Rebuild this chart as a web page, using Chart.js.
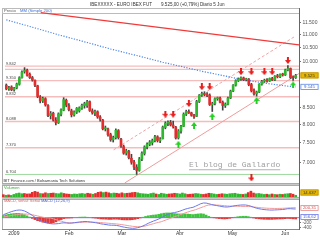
<!DOCTYPE html>
<html lang="es">
<head>
<meta charset="UTF-8">
<meta name="viewport" content="width=device-width, initial-scale=1.0">
<title>IBEX Futuro - Diario</title>
<script src="https://cdn.jsdelivr.net/npm/chart.js"></script>
<style>
    body { margin: 0; width: 320px; height: 240px; overflow: hidden; background: #fff; position: relative; }
    canvas { position: absolute; left: 0; }
    .marco { position: absolute; box-sizing: border-box; border: 1px solid #aaa; background: #fff; }
    .sep { position: absolute; left: 2px; width: 298px; height: 1px; background: #c8c8c8; }
    #eje { position: absolute; left: 299px; top: 8px; width: 1px; height: 222px; background: #666; }
</style>
</head>

<body>

    <div class="marco" style="left:2px;top:8px;width:298px;height:176px"></div>
    <div class="marco" style="left:2px;top:8px;width:298px;height:6px;border-color:#bbb"></div>
    <div class="sep" style="top:184px"></div>
    <div class="marco" style="left:2px;top:185px;width:298px;height:13px"></div>
    <div class="sep" style="top:198px"></div>
    <div class="marco" style="left:2px;top:199px;width:298px;height:31px"></div>
    <div id="eje"></div>

    <canvas id="cPrecio" width="320" height="188" style="top:0"></canvas>
    <canvas id="cVolumen" width="320" height="13" style="top:185px"></canvas>
    <canvas id="cMacd" width="320" height="46" style="top:194px"></canvas>

</body>

</html>

<script>

    // velas diarias (dic 2008 - 5 jun 2009)
    const apertura = [
        9200, 9080, 9140, 9050, 9110, 9230, 9450, 9660, 9700, 9560,
        9450, 9360, 9180, 8830, 8700, 8770, 8560, 8260, 8330, 8120,
        8050, 8300, 8420, 8720, 8560, 8400, 8280, 8360, 8400, 8480,
        8560, 8560, 8680, 8400, 8330, 8370, 8220, 8130, 7880, 7880,
        7720, 7580, 7640, 7830, 7600, 7400, 7230, 7280, 7100, 7000,
        6880, 6800, 7080, 7220, 7390, 7460, 7500, 7560, 7660, 7560,
        7610, 7920, 8040, 8060, 7990, 7930, 7630, 7820, 7950, 8300,
        8380, 8340, 8270, 8240, 8680, 8880, 8930, 8900, 8880, 8580,
        8620, 8770, 8790, 8660, 8560, 8600, 8790, 9010, 9200, 9350,
        9410, 9440, 9380, 9400, 9220, 9020, 8920, 8980, 9230, 9330,
        9360, 9340, 9420, 9370, 9500, 9480, 9560, 9540, 9710, 9760, 9460, 9450
    ];
    const maximo = [
        9240, 9160, 9180, 9130, 9270, 9480, 9680, 9792, 9740, 9610,
        9490, 9380, 9200, 8870, 8820, 8800, 8590, 8380, 8360, 8200,
        8340, 8460, 8800, 8760, 8620, 8450, 8400, 8500, 8520, 8600,
        8660, 8720, 8700, 8460, 8420, 8400, 8260, 8150, 7960, 7900,
        7760, 7680, 7880, 7860, 7620, 7440, 7330, 7300, 7200, 7050,
        6940, 7120, 7260, 7420, 7500, 7560, 7600, 7700, 7690, 7640,
        7960, 8080, 8110, 8120, 8100, 7950, 7860, 7980, 8340, 8420,
        8430, 8360, 8300, 8720, 8900, 8980, 8990, 8960, 8920, 8660,
        8800, 8820, 8820, 8700, 8640, 8820, 9040, 9220, 9380, 9440,
        9480, 9470, 9430, 9420, 9260, 9080, 9010, 9250, 9360, 9400,
        9420, 9440, 9460, 9520, 9560, 9580, 9600, 9740, 9860, 9780, 9510, 9560
    ];
    const minimo = [
        9050, 9030, 9020, 9010, 9080, 9200, 9430, 9600, 9500, 9420,
        9330, 9150, 8800, 8640, 8650, 8540, 8230, 8160, 8100, 7990,
        8030, 8250, 8400, 8520, 8400, 8220, 8240, 8320, 8360, 8440,
        8480, 8500, 8380, 8300, 8260, 8180, 8100, 7850, 7820, 7680,
        7540, 7520, 7600, 7600, 7380, 7200, 7180, 7080, 6950, 6820,
        6704, 6780, 7040, 7180, 7340, 7420, 7440, 7520, 7520, 7500,
        7600, 7880, 7970, 7960, 7900, 7600, 7600, 7760, 7940, 8260,
        8320, 8240, 8180, 8230, 8650, 8840, 8860, 8830, 8560, 8380,
        8580, 8720, 8640, 8420, 8500, 8580, 8770, 8990, 9170, 9320,
        9360, 9350, 9340, 9180, 8980, 8880, 8850, 8960, 9200, 9290,
        9300, 9320, 9350, 9350, 9440, 9450, 9500, 9520, 9680, 9420, 9360, 9420
    ];
    const cierre = [
        9080, 9110, 9050, 9110, 9240, 9450, 9640, 9690, 9530, 9450,
        9370, 9200, 8840, 8700, 8780, 8580, 8260, 8320, 8130, 8060,
        8310, 8430, 8740, 8570, 8430, 8280, 8370, 8470, 8490, 8570,
        8620, 8680, 8410, 8340, 8380, 8220, 8150, 7880, 7900, 7720,
        7580, 7640, 7840, 7640, 7420, 7230, 7290, 7110, 7000, 6880,
        6800, 7080, 7230, 7390, 7460, 7520, 7560, 7660, 7560, 7600,
        7930, 8040, 8060, 7990, 7940, 7630, 7820, 7950, 8300, 8380,
        8340, 8270, 8230, 8680, 8880, 8930, 8900, 8870, 8590, 8620,
        8770, 8790, 8660, 8560, 8600, 8790, 9010, 9200, 9350, 9410,
        9440, 9380, 9400, 9220, 9020, 8920, 8980, 9230, 9330, 9360,
        9340, 9420, 9370, 9500, 9480, 9560, 9540, 9710, 9760, 9450, 9450, 9525
    ];
    const volumen = [
        20000, 15000, 18000, 14000, 22000, 30000, 34000, 28000, 30000, 26000, 27000,
        40000, 48000, 42000, 30000, 28000, 36000, 30000, 32000, 34000, 30000,
        28000, 36000, 30000, 26000, 24000, 22000, 26000, 24000, 28000, 30000,
        26000, 32000, 28000, 24000, 30000, 40000, 44000, 38000, 42000, 36000,
        30000, 34000, 32000, 28000, 36000, 30000, 32000, 34000, 38000, 40000,
        36000, 30000, 28000, 26000, 24000, 30000, 34000, 26000, 22000, 32000,
        28000, 24000, 26000, 28000, 32000, 30000, 26000, 34000, 28000, 22000,
        24000, 26000, 30000, 28000, 24000, 22000, 26000, 32000, 30000, 26000,
        22000, 24000, 28000, 26000, 24000, 28000, 30000, 32000, 26000, 24000,
        22000, 26000, 38000, 50000, 34000, 28000, 30000, 26000, 22000, 24000,
        20000, 26000, 22000, 20000, 24000, 22000, 26000, 28000, 30000, 24000, 14637
    ];
    const mm200 = [
        11600, 11570, 11540, 11510, 11480, 11450, 11420, 11390, 11360, 11330,
        11300, 11270, 11240, 11210, 11180, 11150, 11120, 11090, 11060, 11030, 11000,
        10973, 10946, 10919, 10892, 10865, 10838, 10811, 10784, 10757, 10730,
        10703, 10676, 10649, 10622, 10595, 10568, 10541, 10514, 10487, 10460,
        10436, 10412, 10388, 10364, 10340, 10316, 10292, 10268, 10244, 10220,
        10196, 10172, 10148, 10124, 10100, 10076, 10052, 10028, 10004, 9980,
        9959, 9938, 9917, 9896, 9875, 9854, 9833, 9812, 9791, 9770,
        9749, 9728, 9707, 9686, 9665,
        9647, 9629, 9611, 9593, 9575, 9557, 9539, 9521, 9503, 9485,
        9467, 9449, 9431, 9413, 9395,
        9381, 9367, 9353, 9339, 9325, 9311, 9297, 9283, 9269, 9255,
        9244, 9233, 9222, 9211, 9200, 9189, 9178, 9167, 9158, 9150, 9145
    ];
    const macd = [
        120, 160, 200, 240, 270, 295, 308, 300, 270, 220,
        160, 90, 20, -50, -100, -160, -200, -220, -240, -250,
        -245, -235, -215, -205, -212, -220, -215, -200, -185, -170,
        -160, -150, -158, -172, -185, -200, -220, -245, -260, -275,
        -292, -300, -300, -310, -330, -360, -380, -400, -415, -424,
        -420, -400, -370, -330, -280, -224, -180, -135, -95, -52,
        0, 60, 110, 150, 185, 205, 230, 260, 300, 340,
        370, 395, 415, 460, 510, 560, 588, 585, 560, 530,
        505, 485, 465, 445, 430, 428, 440, 460, 480, 495,
        505, 510, 508, 490, 460, 420, 385, 360, 340, 325,
        315, 308, 305, 310, 315, 320, 328, 340, 360, 360, 352, 348
    ];
    const senal = [
        30, 45, 65, 85, 105, 120, 135, 145, 148, 145,
        135, 118, 95, 70, 45, 20, 0, -8, -12, -45,
        -80, -110, -140, -170, -195, -205, -205, -203, -198, -192,
        -185, -178, -175, -175, -178, -182, -188, -196, -205, -214,
        -223, -232, -240, -250, -262, -277, -293, -310, -327, -343,
        -355, -360, -360, -350, -330, -300, -270, -240, -210, -185,
        -160, -120, -80, -40, 0, 40, 75, 110, 150, 190,
        225, 260, 290, 320, 360, 400, 440, 480, 508, 512,
        510, 505, 500, 490, 480, 470, 465, 462, 460, 458,
        455, 452, 450, 447, 440, 430, 418, 405, 395, 388,
        380, 376, 372, 370, 370, 372, 375, 380, 388, 395, 398, 400
    ];
    const histograma = [
        90, 115, 135, 155, 165, 175, 173, 155, 122, 75,
        25, -28, -75, -120, -145, -180, -200, -212, -228, -205,
        -165, -125, -75, -35, -17, -15, -10, 3, 13, 22,
        25, 28, 17, 3, -7, -18, -32, -49, -55, -61,
        -69, -68, -60, -60, -68, -83, -87, -90, -88, -81,
        -65, -40, -10, 20, 50, 76, 90, 105, 115, 133,
        160, 180, 190, 190, 185, 165, 155, 150, 150, 150,
        145, 135, 125, 140, 150, 160, 148, 105, 52, 18,
        -5, -20, -35, -45, -50, -42, -25, -2, 20, 37,
        50, 58, 58, 43, 20, -10, -33, -45, -55, -63,
        -65, -68, -67, -60, -55, -52, -47, -40, -28, -35, -46, -52
    ];

    // ejes
    const mesIdx = [4, 25, 45, 67, 87, 107];
    const mesTxt = ['2009', 'Feb', 'Mar', 'Abr', 'May', 'Jun'];
    const ticksPrecio = [7000, 7500, 8000, 8500, 10000, 10500, 11000, 11500];
    const ticksMacd = [-400, -200];
    const macdCajas = [200.31, 156.62];

    // niveles y lineas de tendencia
    const niveles = [9842, 9350, 8832, 8088, 7370];
    const banda = [9730];
    const soporte = [6704];
    const rojaX = [13.2, 112.26], rojaY = [11900, 10610];
    const alcistaX = [45.4, 112.26], alcistaY = [6503, 9588];
    const canalX = [41.15, 110.36], canalY = [7313, 10917];

    // senales
    const ventaIdx = [61, 64, 70, 75, 78, 90, 94, 99, 102, 108];
    const ventaVal = [8300, 8300, 8620, 9150, 9150, 9650, 9650, 9650, 9650, 10040];
    const compraIdx = [66, 72, 79, 96, 110];
    const compraVal = [7460, 7975, 8230, 8715, 9208];
    const ventaBajaIdx = [94], ventaBajaVal = [6620];

    const X_MIN = -0.5, X_MAX = 112.26;
    const VERDE = '#2fb82f', ROJO = '#e52b2b';
    const FUENTE = "'Liberation Sans', Arial, sans-serif";

    Chart.defaults.font.family = FUENTE;
    Chart.defaults.plugins.legend.display = false;
    Chart.defaults.plugins.tooltip.enabled = false;

    const n = cierre.length;
    const idx = cierre.map((c, i) => i);
    const colorVela = cierre.map((c, i) => c >= apertura[i] ? VERDE : ROJO);

    function fmt(v) {
        return String(Math.round(v)).replace(/\B(?=(\d{3})+(?!\d))/g, '.');
    }

    function flecha(color, abajo) {
        let c = document.createElement('canvas');
        c.width = 6;
        c.height = 7;
        let g = c.getContext('2d');
        g.fillStyle = color;
        g.beginPath();
        if (abajo) {
            g.fillRect(2, 0, 2, 3);
            g.moveTo(0, 3); g.lineTo(6, 3); g.lineTo(3, 7);
        } else {
            g.fillRect(2, 4, 2, 3);
            g.moveTo(3, 0); g.lineTo(6, 4); g.lineTo(0, 4);
        }
        g.closePath();
        g.fill();
        return c;
    }
    const flechaRoja = flecha('#e81e1e', true);
    const flechaVerde = flecha('#22d022', false);

    function puntos(xs, ys) {
        return xs.map((x, k) => ({ x: x, y: ys[k] }));
    }

    function lineaH(v, color, ancho) {
        return {
            type: 'line', data: puntos([X_MIN, X_MAX], [v, v]),
            borderColor: color, borderWidth: ancho, pointRadius: 0, order: 9
        };
    }

    function caja(ctx, x, y, texto, fondo, borde, color) {
        ctx.fillStyle = fondo;
        ctx.fillRect(x, y - 3, 18, 6);
        ctx.strokeStyle = borde;
        ctx.lineWidth = 0.8;
        ctx.strokeRect(x + 0.4, y - 2.6, 17.2, 5.2);
        ctx.fillStyle = color;
        ctx.font = '4.3px ' + FUENTE;
        ctx.textAlign = 'center';
        ctx.textBaseline = 'middle';
        ctx.fillText(texto, x + 9, y + 0.3);
        ctx.textAlign = 'left';
    }

    // textos fijos de cada panel
    function rotulos(items) {
        return {
            id: 'rotulos',
            afterDraw(chart) {
                let ctx = chart.ctx;
                let cursor = 0;
                ctx.save();
                ctx.textBaseline = 'middle';
                items.forEach(function (it) {
                    ctx.font = it.size + 'px ' + (it.mono ? "'Liberation Mono', monospace" : FUENTE);
                    let w = ctx.measureText(it.t).width;
                    let x = it.x === undefined ? cursor : it.x;
                    if (it.fondo) {
                        caja(ctx, x, it.y, it.t, it.fondo, it.borde, it.color);
                    } else {
                        ctx.fillStyle = it.color;
                        ctx.fillText(it.t, x, it.y);
                        if (it.subrayado) ctx.fillRect(x, it.y + it.size * 0.55, w, 0.8);
                    }
                    cursor = x + w + (it.gap || 0);
                });
                ctx.restore();
            }
        };
    }

    const marcasPrecio = {
        id: 'marcasPrecio',
        afterDatasetsDraw(chart) {
            let ctx = chart.ctx, a = chart.chartArea, y = chart.scales.y;
            ctx.save();
            ctx.font = '4px ' + FUENTE;
            ctx.textBaseline = 'bottom';
            ctx.fillStyle = '#444';
            niveles.concat(soporte).forEach(function (v) {
                ctx.fillText(fmt(v), a.left + 1, y.getPixelForValue(v) - 0.4);
            });
            caja(ctx, a.right + 1.5, y.getPixelForValue(cierre[n - 1]), fmt(cierre[n - 1]), '#e6b800', '#c09000', '#333');
            caja(ctx, a.right + 1.5, y.getPixelForValue(mm200[n - 1]), fmt(mm200[n - 1]), '#fff', '#5b86e8', '#3a64d0');
            ctx.restore();
        }
    };

    const variacion = (cierre[n - 1] / cierre[n - 2] - 1) * 100;
    const titulo = fmt(cierre[n - 1]) + ',00 (' + (variacion >= 0 ? '+' : '') + variacion.toFixed(2).replace('.', ',') + '%)';

    const ejeX = { type: 'linear', min: X_MIN, max: X_MAX, offset: false, display: false, grid: { offset: false } };

    // ---------- precio ----------
    let datasetsPrecio = niveles.map(v => lineaH(v, '#f5bcbc', 1.4))
        .concat(banda.map(v => lineaH(v, '#f5bcbc', 1.4)))
        .concat(soporte.map(v => lineaH(v, '#9cd89c', 1)));

    datasetsPrecio.push(
        { type: 'line', data: puntos(rojaX, rojaY), borderColor: '#f03a3a', borderWidth: 1.3, pointRadius: 0, order: 8 },
        { type: 'line', data: puntos(alcistaX, alcistaY), borderColor: '#f09c9c', borderWidth: 1, pointRadius: 0, order: 8 },
        { type: 'line', data: puntos(canalX, canalY), borderColor: '#f2a4a4', borderWidth: 1, borderDash: [3, 2], pointRadius: 0, order: 8 },
        { type: 'line', data: puntos(idx, mm200), borderColor: '#4b84ec', borderWidth: 1.2, borderDash: [1.2, 1.5], pointRadius: 0, order: 5 },
        {
            type: 'bar', data: idx.map(i => ({ x: i, y: [minimo[i], maximo[i]] })),
            backgroundColor: '#444', barThickness: 1, grouped: false, order: 3
        },
        {
            type: 'bar', data: idx.map(i => ({ x: i, y: [apertura[i], cierre[i]] })),
            backgroundColor: colorVela, barThickness: 2, minBarLength: 1, grouped: false, order: 2
        },
        { type: 'line', data: puntos(ventaIdx, ventaVal), showLine: false, pointStyle: flechaRoja, order: 1 },
        { type: 'line', data: puntos(ventaBajaIdx, ventaBajaVal), showLine: false, pointStyle: flechaRoja, order: 1 },
        { type: 'line', data: puntos(compraIdx, compraVal), showLine: false, pointStyle: flechaVerde, order: 1 }
    );

    new Chart(document.getElementById('cPrecio'), {
        type: 'bar',
        data: { datasets: datasetsPrecio },
        options: {
            responsive: false, devicePixelRatio: 1, animation: false, events: [],
            layout: { padding: { top: 9, left: 2, right: 0, bottom: 5 } },
            scales: {
                x: ejeX,
                y: {
                    type: 'logarithmic', position: 'right', min: 6503, max: 12054,
                    afterBuildTicks: s => { s.ticks = ticksPrecio.map(v => ({ value: v })); },
                    afterFit: s => { s.width = 21; },
                    ticks: { autoSkip: false, padding: 1.5, color: '#555', font: { size: 5 }, callback: v => fmt(v) },
                    grid: { drawOnChartArea: false, tickLength: 2, color: '#777' },
                    border: { color: '#666' }
                }
            }
        },
        plugins: [marcasPrecio, rotulos([
            { t: 'IBEXXXXX - EURO IBEX FUT', x: 90, y: 4.5, size: 4.6, color: '#333' },
            { t: titulo, x: 161, y: 4.5, size: 4.6, color: '#333' },
            { t: 'Diario 5 Jun', x: 200, y: 4.5, size: 4.6, color: '#333' },
            { t: 'Precio', x: 4, y: 11, size: 4.2, color: '#555' },
            { t: 'MM (Simple 200)', x: 20, y: 11, size: 4.2, color: '#3b6fd8' },
            { t: 'BIT Finance.com / Bolsamania Tech Solutions', x: 3.5, y: 180.5, size: 4, color: '#333' },
            { t: 'El blog de Gallardo', x: 189, y: 165, size: 8, mono: true, color: '#a0a0a0', subrayado: true }
        ])]
    });

    // ---------- volumen ----------
    new Chart(document.getElementById('cVolumen'), {
        type: 'bar',
        data: {
            datasets: [{
                data: idx.map(i => ({ x: i, y: volumen[i] })),
                backgroundColor: colorVela, barThickness: 2, grouped: false
            }]
        },
        options: {
            responsive: false, devicePixelRatio: 1, animation: false, events: [],
            layout: { padding: { top: 5, left: 2, right: 0, bottom: 1 } },
            scales: {
                x: ejeX,
                y: {
                    position: 'right', min: 0, max: 60000,
                    afterFit: s => { s.width = 21; },
                    ticks: { display: false },
                    grid: { display: false },
                    border: { color: '#666' }
                }
            }
        },
        plugins: [rotulos([
            { t: 'Volumen', x: 4, y: 2.8, size: 4, color: '#3aa63a' },
            { t: fmt(volumen[n - 1]), x: 300.5, y: 7.5, size: 4.3, fondo: '#e6b800', borde: '#c09000', color: '#333' }
        ])]
    });

    // ---------- MACD ----------
    new Chart(document.getElementById('cMacd'), {
        type: 'bar',
        data: {
            datasets: [
                { type: 'line', data: puntos([X_MIN, X_MAX], [0, 0]), borderColor: '#8080e0', borderWidth: 1, pointRadius: 0, order: 4 },
                {
                    type: 'bar', data: idx.map(i => ({ x: i, y: histograma[i] })),
                    backgroundColor: histograma.map(v => v >= 0 ? '#3cc43c' : '#e03838'),
                    barThickness: 2, grouped: false, order: 3
                },
                { type: 'line', data: puntos(idx, senal), borderColor: '#f29a9a', borderWidth: 1, pointRadius: 0, order: 2 },
                { type: 'line', data: puntos(idx, macd), borderColor: '#6a78ea', borderWidth: 1, pointRadius: 0, order: 1 }
            ]
        },
        options: {
            responsive: false, devicePixelRatio: 1, animation: false, events: [],
            layout: { padding: { top: 5, left: 2, right: 0, bottom: 0 } },
            scales: {
                x: {
                    type: 'linear', min: X_MIN, max: X_MAX, offset: false, position: 'bottom',
                    afterBuildTicks: s => { s.ticks = mesIdx.map(v => ({ value: v })); },
                    afterFit: s => { s.height = 11; },
                    ticks: { autoSkip: false, maxRotation: 0, padding: 0, color: '#333', font: { size: 5 }, callback: (v, k) => mesTxt[k] },
                    grid: { drawOnChartArea: false, offset: false, tickLength: 2, color: '#777' },
                    border: { color: '#888' }
                },
                y: {
                    position: 'right', min: -452, max: 748,
                    afterBuildTicks: s => { s.ticks = ticksMacd.map(v => ({ value: v })); },
                    afterFit: s => { s.width = 21; },
                    ticks: { autoSkip: false, padding: 1.5, color: '#555', font: { size: 4.5 }, callback: v => String(v) },
                    grid: { drawOnChartArea: false, tickLength: 2, color: '#777' },
                    border: { color: '#666' }
                }
            }
        },
        plugins: [rotulos([
            { t: 'MACD, señal: Señal', x: 4, y: 7, size: 4, color: '#d46a6a', gap: 1 },
            { t: 'MACD (12,26,9)', y: 7, size: 4, color: '#4a5fd8' },
            { t: macdCajas[0].toFixed(2).replace('.', ','), x: 300.5, y: 14, size: 4.3, fondo: '#fff', borde: '#e88a8a', color: '#d05050' },
            { t: macdCajas[1].toFixed(2).replace('.', ','), x: 300.5, y: 23, size: 4.3, fondo: '#fff', borde: '#6a78ea', color: '#4a5fd8' }
        ])]
    });

</script>
